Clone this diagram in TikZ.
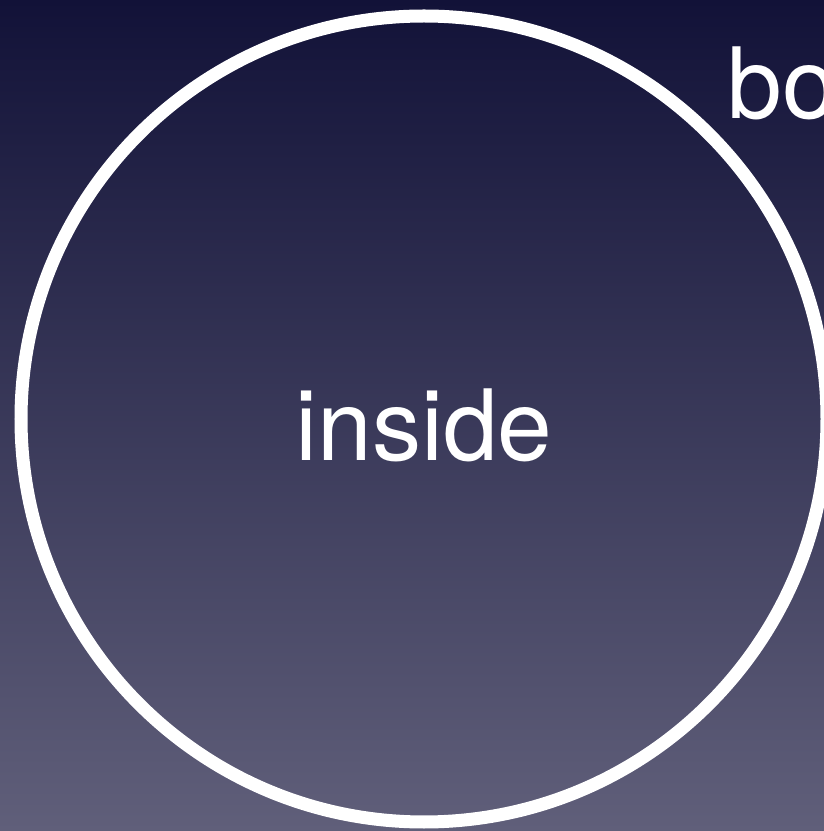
\documentclass[tikz,border=0pt]{standalone}
\usepackage{fontspec}
\setmainfont{TeX Gyre Heros}
\usepackage{xcolor}
\usetikzlibrary{positioning}

\definecolor{skytop}{RGB}{18,18,56}
\definecolor{skybot}{RGB}{96,95,122}

\begin{document}
\begin{tikzpicture}[
    ring/.style={circle, draw=white, line width=3.7pt, minimum size=8.06cm,
                 inner sep=0pt},
    word/.style={text=white, font=\fontsize{28}{30}\selectfont, inner sep=0pt},
]

% Background
\shade[top color=skytop, bottom color=skybot] (0,0) rectangle (8.24,8.31);
\useasboundingbox (0,0) rectangle (8.24,8.31);

% Circle
\node[ring] (boundary) at (4.24,4.12) {};

% Labels
\node[word, anchor=base] (inside) at (4.24,3.70) {inside};
\node[word, anchor=base west] (bo) at (7.27,7.12) {bo};

\end{tikzpicture}
\end{document}
